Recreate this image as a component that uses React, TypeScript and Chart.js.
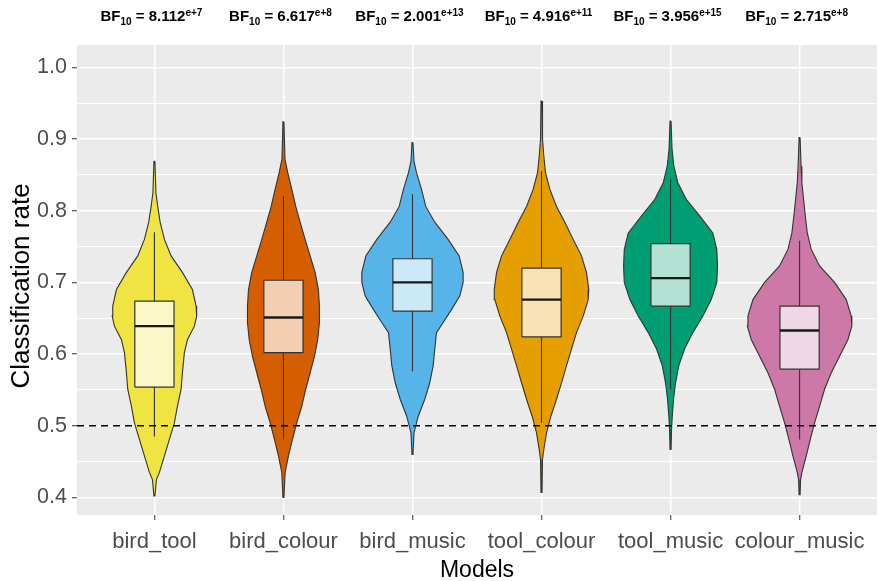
import React, { useEffect, useRef } from 'react';
import { Chart, registerables } from 'chart.js';

Chart.register(...registerables);

// ---------- data ----------
const categories = ['bird_tool', 'bird_colour', 'bird_music', 'tool_colour', 'tool_music', 'colour_music'];
const bfMantissa = ['8.112', '6.617', '2.001', '4.916', '3.956', '2.715'];
const bfExponent = ['e+7', 'e+8', 'e+13', 'e+11', 'e+15', 'e+8'];
const xTitle = 'Models';
const yTitle = 'Classification rate';

const yMajorTicks = [0.4, 0.5, 0.6, 0.7, 0.8, 0.9, 1.0];
const yMinorTicks = [0.45, 0.55, 0.65, 0.75, 0.85, 0.95];
const chanceLevel = 0.5;

// violin outlines: classification-rate levels (top to bottom) and relative density at each level
const birdToolLevels = [0.869, 0.825, 0.806, 0.784, 0.760, 0.737, 0.714, 0.690, 0.667, 0.653, 0.639, 0.620, 0.602, 0.574, 0.551, 0.527, 0.504, 0.481, 0.458, 0.435, 0.425, 0.402];
const birdToolDensity = [0.5, 1.5, 3.3, 5.7, 10, 16.7, 28, 38, 41.7, 42.3, 40, 33, 30, 28, 26.7, 23, 20, 15, 10, 5, 2, 0.5];

const birdColourLevels = [0.924, 0.872, 0.853, 0.830, 0.806, 0.784, 0.760, 0.737, 0.714, 0.690, 0.667, 0.644, 0.620, 0.597, 0.574, 0.551, 0.527, 0.504, 0.481, 0.458, 0.435, 0.400];
const birdColourDensity = [0.5, 1.5, 4.3, 8.3, 12.3, 16.7, 21.7, 26.7, 31.7, 35, 36, 36, 34.3, 31, 26.7, 22.3, 18.3, 13.3, 9, 5, 1.7, 0.5];

const birdMusicLevels = [0.895, 0.869, 0.853, 0.830, 0.806, 0.784, 0.760, 0.737, 0.714, 0.700, 0.681, 0.662, 0.644, 0.630, 0.607, 0.584, 0.560, 0.537, 0.513, 0.490, 0.460];
const birdMusicDensity = [0.5, 1.5, 4, 9, 13.3, 22.3, 35.7, 46.7, 50.7, 50.7, 47.3, 39, 30.7, 24, 22.3, 20.7, 17.3, 12.3, 5.7, 1.5, 0.5];

const toolColourLevels = [0.953, 0.900, 0.876, 0.853, 0.830, 0.806, 0.784, 0.760, 0.737, 0.714, 0.690, 0.676, 0.653, 0.630, 0.607, 0.584, 0.560, 0.537, 0.513, 0.490, 0.467, 0.453, 0.407];
const toolColourDensity = [0.5, 1, 2.3, 4, 8.3, 15, 23.3, 31.7, 40, 45, 47.3, 46.7, 41.7, 35, 30, 25, 20, 15, 9.3, 5, 2.3, 1, 0.5];

const toolMusicLevels = [0.925, 0.886, 0.862, 0.839, 0.816, 0.793, 0.769, 0.746, 0.723, 0.700, 0.676, 0.653, 0.630, 0.607, 0.584, 0.560, 0.537, 0.513, 0.495, 0.467];
const toolMusicDensity = [0.5, 1.5, 3.3, 7.3, 15.7, 29, 42.3, 46.3, 47, 46.3, 40.7, 32.3, 22.3, 14, 8.3, 5, 3, 1.7, 1, 0.5];

const colourMusicLevels = [0.902, 0.862, 0.839, 0.816, 0.793, 0.769, 0.746, 0.723, 0.700, 0.676, 0.653, 0.639, 0.620, 0.597, 0.574, 0.551, 0.527, 0.504, 0.481, 0.458, 0.435, 0.425, 0.404];
const colourMusicDensity = [0.5, 1.5, 2.3, 4, 5.7, 7.7, 11.7, 20, 35, 46.7, 51.7, 52.3, 48.3, 40, 31.7, 25, 20, 15, 10.7, 6.7, 2.3, 1, 0.5];

// box plots
const boxQ1 = [0.554, 0.602, 0.660, 0.624, 0.667, 0.579];
const boxMedian = [0.639, 0.651, 0.700, 0.676, 0.706, 0.633];
const boxQ3 = [0.674, 0.703, 0.733, 0.720, 0.754, 0.667];
const whiskerLow = [0.485, 0.481, 0.576, 0.504, 0.551, 0.481];
const whiskerHigh = [0.770, 0.820, 0.823, 0.855, 0.844, 0.758];

// ---------- styles ----------
const violinColors = ['#F0E442', '#D55E00', '#56B4E9', '#E69F00', '#009E73', '#CC79A7'];
const FONT = '"Liberation Sans", Arial, Helvetica, sans-serif';
const MAX_HALF_WIDTH = 0.405; // category units for the widest violin
const BOX_HALF_WIDTH = 0.152;
const OUTLINE = '#333333';

const violinLevels = [birdToolLevels, birdColourLevels, birdMusicLevels, toolColourLevels, toolMusicLevels, colourMusicLevels];
const violinDensity = [birdToolDensity, birdColourDensity, birdMusicDensity, toolColourDensity, toolMusicDensity, colourMusicDensity];

function lighten(hex: string, a: number) {
  const n = parseInt(hex.slice(1), 16);
  const r = (n >> 16) & 255, g = (n >> 8) & 255, b = n & 255;
  const m = (c: number) => Math.round(255 * (1 - a) + c * a);
  return `rgb(${m(r)},${m(g)},${m(b)})`;
}

function buildDatasets() {
  const maxD = Math.max(...violinDensity.flat());
  const ds: any[] = [];
  categories.forEach((_, i) => {
    const cx = i + 1;
    const lv = violinLevels[i];
    const dn = violinDensity[i];
    const right = lv.map((y, k) => ({ x: cx + (dn[k] / maxD) * MAX_HALF_WIDTH, y }));
    const left = lv.map((y, k) => ({ x: cx - (dn[k] / maxD) * MAX_HALF_WIDTH, y })).reverse();
    ds.push({
      data: [...right, ...left, right[0]],
      fill: 'shape',
      backgroundColor: violinColors[i],
      borderColor: OUTLINE,
      borderWidth: 1.1,
      pointRadius: 0,
      tension: 0,
      order: 5,
    });
    ds.push({
      data: [{ x: cx, y: boxQ3[i] }, { x: cx, y: whiskerHigh[i] }],
      fill: false, borderColor: OUTLINE, borderWidth: 1.1, pointRadius: 0, order: 4,
    });
    ds.push({
      data: [{ x: cx, y: boxQ1[i] }, { x: cx, y: whiskerLow[i] }],
      fill: false, borderColor: OUTLINE, borderWidth: 1.1, pointRadius: 0, order: 4,
    });
    ds.push({
      data: [
        { x: cx - BOX_HALF_WIDTH, y: boxQ1[i] },
        { x: cx + BOX_HALF_WIDTH, y: boxQ1[i] },
        { x: cx + BOX_HALF_WIDTH, y: boxQ3[i] },
        { x: cx - BOX_HALF_WIDTH, y: boxQ3[i] },
        { x: cx - BOX_HALF_WIDTH, y: boxQ1[i] },
      ],
      fill: 'shape',
      backgroundColor: lighten(violinColors[i], 0.3),
      borderColor: OUTLINE,
      borderWidth: 1.2,
      pointRadius: 0,
      tension: 0,
      order: 3,
    });
    ds.push({
      data: [{ x: cx - BOX_HALF_WIDTH, y: boxMedian[i] }, { x: cx + BOX_HALF_WIDTH, y: boxMedian[i] }],
      fill: false, borderColor: '#1a1a1a', borderWidth: 2.4, pointRadius: 0, order: 2,
    });
  });
  ds.push({
    data: [{ x: 0.4, y: chanceLevel }, { x: 6.6, y: chanceLevel }],
    fill: false, borderColor: '#000', borderWidth: 1.4, borderDash: [7, 5], pointRadius: 0, order: 1,
  });
  return ds;
}

const isMajor = (v: number) => yMajorTicks.some((t) => Math.abs(t - v) < 1e-6);

const panelPlugin = {
  id: 'panel',
  beforeDraw(chart: any) {
    const { ctx, chartArea: a } = chart;
    ctx.save();
    ctx.fillStyle = '#ffffff';
    ctx.fillRect(0, 0, chart.width, chart.height);
    ctx.fillStyle = '#EBEBEB';
    ctx.fillRect(a.left, a.top, a.right - a.left, a.bottom - a.top);
    ctx.restore();
  },
};

const textPlugin = {
  id: 'texts',
  afterDraw(chart: any) {
    const { ctx, chartArea: a } = chart;
    const xs = chart.scales.x;
    const big = `bold 15px ${FONT}`;
    const small = `bold 10px ${FONT}`;
    const baseY = 21;
    ctx.save();
    ctx.fillStyle = '#000';
    ctx.textBaseline = 'alphabetic';
    ctx.textAlign = 'left';
    categories.forEach((_, i) => {
      const parts = [
        { t: 'BF', f: big, dy: 0 },
        { t: '10', f: small, dy: 4 },
        { t: ' = ' + bfMantissa[i], f: big, dy: 0 },
        { t: bfExponent[i], f: small, dy: -5 },
      ];
      let total = 0;
      const widths = parts.map((p) => {
        ctx.font = p.f;
        const w = ctx.measureText(p.t).width;
        total += w;
        return w;
      });
      let x = xs.getPixelForValue(i + 1) - 3 - total / 2;
      parts.forEach((p, k) => {
        ctx.font = p.f;
        ctx.fillText(p.t, x, baseY + p.dy);
        x += widths[k];
      });
    });
    // axis titles
    ctx.textAlign = 'center';
    ctx.font = `23px ${FONT}`;
    ctx.fillText(xTitle, (a.left + a.right) / 2, 577);
    ctx.save();
    ctx.translate(28.5, 286);
    ctx.rotate(-Math.PI / 2);
    ctx.font = `26px ${FONT}`;
    ctx.fillText(yTitle, 0, 0);
    ctx.restore();
    ctx.restore();
  },
};

export default function App() {
  const ref = useRef<HTMLCanvasElement>(null);
  useEffect(() => {
    const chart = new Chart(ref.current as HTMLCanvasElement, {
      type: 'line',
      data: { datasets: buildDatasets() },
      options: {
        animation: false,
        responsive: false,
        devicePixelRatio: 1,
        layout: { padding: { top: 45, right: 1, left: 0, bottom: 0 } },
        plugins: { legend: { display: false }, tooltip: { enabled: false } },
        elements: { line: { tension: 0 }, point: { radius: 0 } },
        scales: {
          x: {
            type: 'linear',
            min: 0.4,
            max: 6.6,
            afterBuildTicks: (s: any) => {
              s.ticks = categories.map((_, i) => ({ value: i + 1 }));
            },
            afterFit: (s: any) => {
              s.height = 66;
            },
            ticks: {
              autoSkip: false,
              maxRotation: 0,
              padding: 9,
              color: '#4D4D4D',
              font: { family: FONT, size: 22 },
              callback: (v: any) => categories[Math.round(Number(v)) - 1] ?? '',
            },
            grid: { color: '#ffffff', lineWidth: 1.5, tickColor: '#333333', tickLength: 5, tickWidth: 1 },
            border: { display: false },
            title: { display: false },
          },
          y: {
            type: 'linear',
            min: 0.3756,
            max: 1.0311,
            afterBuildTicks: (s: any) => {
              s.ticks = [...yMajorTicks, ...yMinorTicks].sort((a, b) => a - b).map((v) => ({ value: v }));
            },
            afterFit: (s: any) => {
              s.width = 77;
            },
            ticks: {
              autoSkip: false,
              padding: 5,
              color: '#4D4D4D',
              font: { family: FONT, size: 21.5 },
              callback: (v: any) => (isMajor(Number(v)) ? Number(v).toFixed(1) : ''),
            },
            grid: {
              color: '#ffffff',
              lineWidth: (c: any) => (c.tick && isMajor(c.tick.value) ? 1.5 : 1.0),
              tickColor: (c: any) => (c.tick && isMajor(c.tick.value) ? '#333333' : 'rgba(0,0,0,0)'),
              tickLength: 5,
              tickWidth: 1,
            },
            border: { display: false },
            title: { display: false },
          },
        },
      },
      plugins: [panelPlugin, textPlugin],
    } as any);
    return () => chart.destroy();
  }, []);
  return (
    <div style={{ position: 'absolute', left: 0, top: 0, width: 878, height: 581, background: '#fff' }}>
      <canvas ref={ref} width={878} height={581} style={{ display: 'block', width: 878, height: 581 }} />
    </div>
  );
}
